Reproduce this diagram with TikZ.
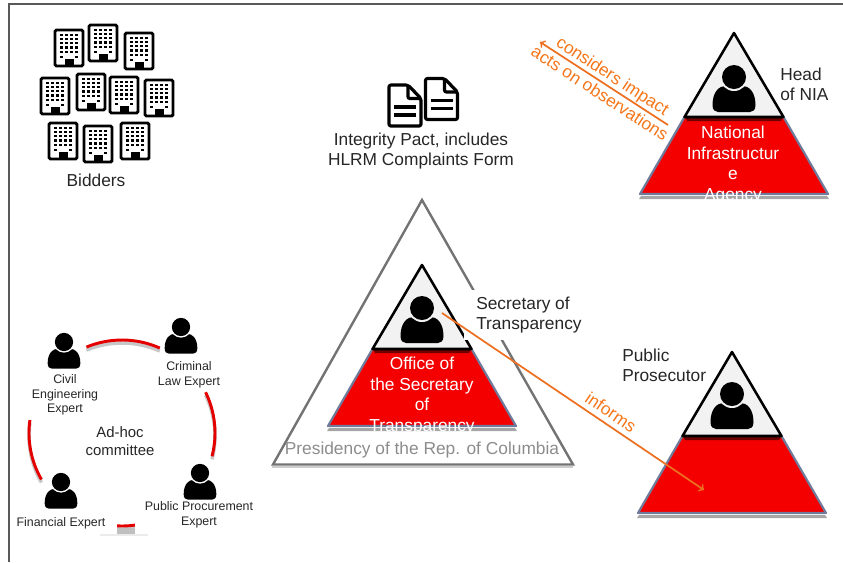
\documentclass[tikz,border=0pt]{standalone}
\usepackage{fontspec}
\setmainfont{Liberation Sans}
\definecolor{ink}{HTML}{262626}
\definecolor{pyrred}{HTML}{F40000}
\definecolor{pyrline}{HTML}{6F7B9B}
\definecolor{topfill}{HTML}{F2F2F2}
\definecolor{arrowor}{HTML}{ED7020}
\definecolor{textor}{HTML}{F5761A}
\tikzset{
    label/.style={text=ink,inner sep=0pt,align=left,anchor=west,font=\fontsize{13}{15}\selectfont},
    caption/.style={text=ink,inner sep=0pt,align=center,font=\fontsize{13}{15}\selectfont},
    small/.style={text=ink,inner sep=0pt,align=center,font=\fontsize{9.3}{11}\selectfont},
    inred/.style={text=white,inner sep=0pt,align=center,font=\fontsize{13}{15.6}\selectfont},
    along/.style={text=textor,inner sep=0pt,font=\fontsize{13}{15}\selectfont},
    orarrow/.style={->,draw=arrowor,line width=1.3pt},
    ringarc/.style={draw=red!90!black,line width=2.2pt},
    ringshade/.style={draw=black!22,line width=2.6pt},
    pics/person/.style={code={
        \fill[black] (-21.5,28) .. controls (-21.5,14) and (-14,9) .. (-9,9) -- (9,9)
            .. controls (14,9) and (21.5,14) .. (21.5,28) .. controls (21.5,33) and (19,35) .. (16,35)
            -- (-16,35) .. controls (-19,35) and (-21.5,33) .. (-21.5,28) -- cycle;
        \fill[#1] (0,0) circle (14);
        \fill[black] (0,0) circle (12);
    }},
    pics/pyramid/.style={code={
        \fill[black!35] (-93,163) -- (93,163) -- (95,166) -- (-95,166) -- cycle;
        \draw[fill=pyrred,draw=pyrline,line width=1.6pt,line join=round] (-49.5,84) -- (-94,161) -- (94,161) -- (49.5,84) -- cycle;
        \fill[black!55!pyrred] (-49,84) -- (49,84) -- (47,88) -- (-47,88) -- cycle;
        \draw[fill=topfill,draw=black,line width=1.9pt,line join=round] (0,0) -- (-49.5,84) -- (49.5,84) -- cycle;
    }},
    pics/building/.style={code={
        \draw[fill=white,draw=black,line width=2.2pt,rounded corners=1pt] (-14,-18) rectangle (14,18);
        \foreach \wy in {-13.3,-9,-4.8,-0.6,3.8} {
            \foreach \wx in {-7.5,-2.5,2.5,7.5} {
                \fill[black] (\wx-1.2,\wy-1.2) rectangle (\wx+1.2,\wy+1.2);
            }
        }
        \fill[black] (-7.5-1.2,7.8) rectangle (-7.5+1.2,10.2);
        \fill[black] (7.5-1.2,7.8) rectangle (7.5+1.2,10.2);
        \fill[black] (-4.5,10.5) rectangle (4.5,18);
    }},
    pics/sheet/.style={code={
        \draw[black,line width=2.4pt,line join=round,rounded corners=1.5pt] (-16,-20.5) -- (3,-20.5) -- (16,-7) -- (16,20.5) -- (-16,20.5) -- cycle;
        \draw[black,line width=2.4pt,rounded corners=1.5pt] (3,-20.5) -- (3,-7) -- (16,-7);
        \draw[black,line width=2.4pt] (-11,1.5) -- (11,1.5) (-11,9.5) -- (11,9.5);
    }}
}
\begin{document}
\begin{tikzpicture}[x=0.75pt,y=-0.75pt]
    \useasboundingbox (0,0) rectangle (843,562);
    \draw[black!65,line width=0.9pt] (843,4) -- (9,4) -- (9,562);

    \foreach \bx/\by in {69/48,103/43,139/51,55/96,91/92,124/95,159/98,63/141,98/144,135/141} {
        \pic at (\bx,\by) {building};
    }
    \node[caption] (bidders) at (96,180) {Bidders};

    \pic at (405,105.5) {sheet};
    \pic at (441.5,99) {sheet};
    \node[caption] (pact) at (421,151.5) {Integrity Pact, includes\\HLRM Complaints Form};

    \draw[black!55,line width=1.8pt,line join=miter] (422,200) -- (273,464.5) -- (573,464.5) -- cycle;
    \draw[black!20,line width=1pt] (272,467) -- (573,467);
    \node[text=black!45,inner sep=0pt,font=\fontsize{13}{15}\selectfont] (presidency) at (422,450) {Presidency of the Rep. of Columbia};
    \pic at (422,265) {pyramid};
    \pic at (422,308) {person=topfill};
    \node[inred] (office) at (422,396) {Office of\\the Secretary\\of\\Transparency};
    \node[label,fill=white,inner xsep=9pt,inner ysep=5pt] (secretary) at (464,315) {Secretary of\\Transparency};

    \pic at (734,33) {pyramid};
    \pic at (734,77) {person=topfill};
    \node[inred] (nia) at (733,165) {National\\Infrastructur\\e\\Agency};
    \node[label] (head) at (780,84) {Head\\of NIA};

    \pic at (732,352) {pyramid};
    \pic at (732,394) {person=topfill};
    \node[label] (prosecutor) at (622,365.5) {Public\\Prosecutor};

    \coordinate (niafrom) at (668,125);
    \coordinate (niato) at (540,42);
    \draw[orarrow] (niafrom) -- (niato);
    \node[along,rotate=-33] (considers) at (612,77) {considers impact};
    \node[along,rotate=-33] (acts) at (600,93) {acts on observations};

    \coordinate (secfrom) at (442,313);
    \coordinate (prosto) at (704,490);
    \draw[orarrow] (secfrom) -- (prosto);
    \node[along,rotate=-34] (informs) at (611,412) {informs};

    \coordinate (ring) at (122,433);
    \coordinate (ringlow) at (122,436);
    \foreach \afrom/\ato in {247.5/294,334/374.5,188/150,93/82} {
        \draw[ringshade] (ringlow) ++(\afrom:93) arc (\afrom:\ato:93);
    }
    \fill[black!25] (117,528) rectangle (135,534);
    \draw[black!8,line width=1.5pt] (100,535) -- (148,535);
    \foreach \afrom/\ato in {247.5/294,334/374.5,188/150,93/82} {
        \draw[ringarc] (ring) ++(\afrom:93) arc (\afrom:\ato:93);
    }
    \pic[scale=0.76] at (64,342) {person=white};
    \pic[scale=0.76] at (181,327) {person=white};
    \pic[scale=0.76] at (200,473) {person=white};
    \pic[scale=0.76] at (61,482) {person=white};
    \node[small] (civil) at (65,395) {Civil\\Engineering\\Expert};
    \node[small] (criminal) at (189,375) {Criminal\\Law Expert};
    \node[small] (procurement) at (199,515) {Public Procurement\\Expert};
    \node[small] (financial) at (61,523) {Financial Expert};
    \node[text=ink,inner sep=0pt,align=center,font=\fontsize{11.2}{13}\selectfont] (committee) at (120,441) {Ad-hoc\\committee};
\end{tikzpicture}
\end{document}
